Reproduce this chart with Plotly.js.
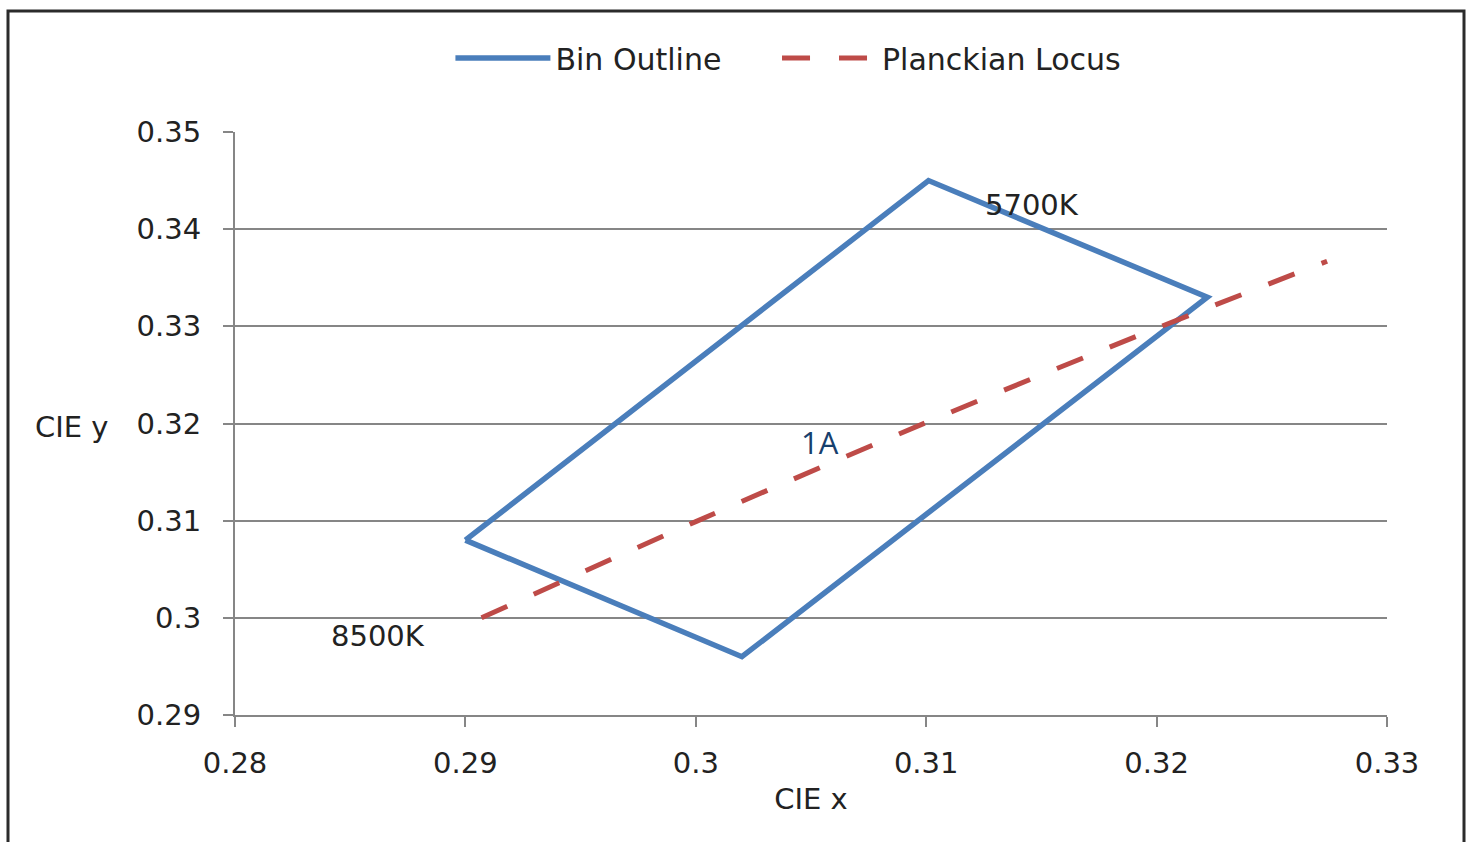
<!DOCTYPE html>
<html>
<head>
<meta charset="utf-8">
<script src="https://cdn.plot.ly/plotly-3.0.1.min.js"></script>
<style>html,body{margin:0;padding:0;background:#fff;}#chart{width:1471px;height:842px;}</style>
</head>
<body>
<div id="chart"></div>
<script>
// Bin outline (closed quadrilateral)
const binX = [0.290, 0.3101, 0.3222, 0.302, 0.290];
const binY = [0.308, 0.3450, 0.3330, 0.296, 0.308];
// Planckian locus (8500K -> 5700K)
const locusX = [0.2907, 0.3000, 0.3101, 0.3200, 0.3274];
const locusY = [0.3000, 0.3099, 0.3202, 0.3298, 0.3367];
// Labels
const labelText = ["5700K", "8500K", "1A"];
const labelX = [0.3146, 0.2862, 0.3054];
const labelY = [0.3425, 0.2981, 0.3181];
const xTicks = [0.28, 0.29, 0.30, 0.31, 0.32, 0.33];
const xTickText = ["0.28", "0.29", "0.3", "0.31", "0.32", "0.33"];
const yTicks = [0.29, 0.30, 0.31, 0.32, 0.33, 0.34, 0.35];
const yTickText = ["0.29", "0.3", "0.31", "0.32", "0.33", "0.34", "0.35"];

const FONT = "DejaVu Sans, Verdana, sans-serif";
const TXT = "#222";
const traces = [
  {x: binX, y: binY, type: "scatter", mode: "lines", name: "Bin Outline", legend: "legend",
   line: {color: "#4a7ebb", width: 5.5}},
  {x: locusX, y: locusY, type: "scatter", mode: "lines", name: "Planckian Locus", legend: "legend2",
   line: {color: "#be4b48", width: 5, dash: "28px,29px", shape: "spline"}}
];

const annotations = labelText.map((t, i) => ({
  x: labelX[i], y: labelY[i], xref: "x", yref: "y", text: t, showarrow: false,
  xanchor: "center", yanchor: "middle",
  font: {family: i === 2 ? "Open Sans, sans-serif" : FONT, size: i === 2 ? 31 : 29, color: i === 2 ? "#17406d" : TXT}
}));
annotations.push({x: (72 - 235) / 1152, y: (715 - 427) / 583, xref: "paper", yref: "paper",
  xanchor: "center", yanchor: "middle", text: "CIE y", showarrow: false,
  font: {family: FONT, size: 29, color: TXT}});

const legendBase = {orientation: "h", xanchor: "left", y: 1.127, yanchor: "middle",
  font: {family: FONT, size: 30, color: TXT}, itemwidth: 95, bgcolor: "rgba(0,0,0,0)"};

const layout = {
  width: 1471, height: 842,
  margin: {l: 235, r: 84, t: 132, b: 127},
  paper_bgcolor: "#fff", plot_bgcolor: "#fff",
  font: {family: FONT, size: 29, color: TXT},
  showlegend: true,
  legend: Object.assign({}, legendBase, {x: 0.187}),
  legend2: Object.assign({}, legendBase, {x: 0.4705}),
  xaxis: {range: [0.28, 0.33], tickvals: xTicks, ticktext: xTickText,
    showgrid: false, zeroline: false, showline: true, linecolor: "#868686", linewidth: 2,
    ticks: "outside", ticklen: 10, tickwidth: 2, tickcolor: "#868686", ticklabelstandoff: 11,
    tickfont: {family: FONT, size: 29, color: TXT},
    title: {text: "CIE x", standoff: 10, font: {family: FONT, size: 29, color: TXT}}},
  yaxis: {range: [0.29, 0.35], tickvals: yTicks, ticktext: yTickText,
    showgrid: true, gridcolor: "#868686", gridwidth: 2, zeroline: false,
    showline: true, linecolor: "#868686", linewidth: 2,
    ticks: "outside", ticklen: 10, tickwidth: 2, tickcolor: "#868686", ticklabelstandoff: 16,
    tickfont: {family: FONT, size: 29, color: TXT}},
  annotations: annotations,
  shapes: [{type: "rect", xref: "paper", yref: "paper",
    x0: (8 - 235) / 1152, x1: (1464 - 235) / 1152, y0: (715 - 860) / 583, y1: (715 - 11) / 583,
    line: {color: "#2b2b2b", width: 3}, fillcolor: "rgba(0,0,0,0)", layer: "above"}]
};

Plotly.newPlot("chart", traces, layout, {displayModeBar: false, staticPlot: true});
</script>
</body>
</html>
